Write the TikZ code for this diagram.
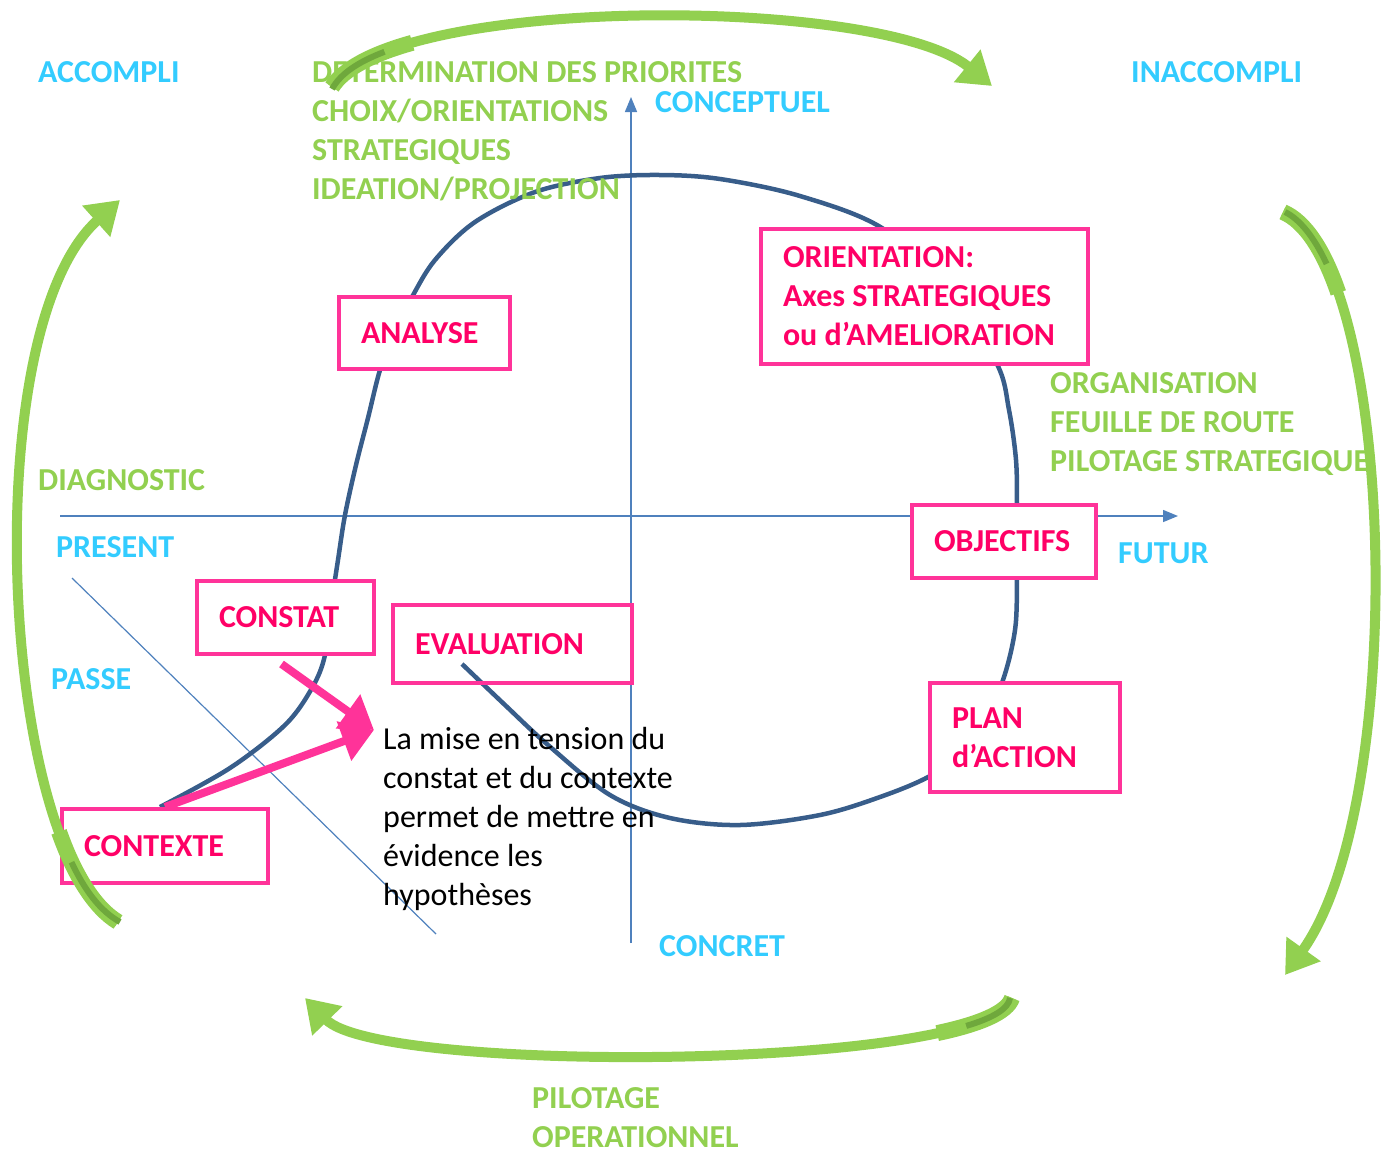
\documentclass[tikz,border=0pt]{standalone}
\usepackage{fontspec}
\setmainfont{Carlito}
\usetikzlibrary{arrows.meta,backgrounds}
\definecolor{boxpink}{HTML}{FF3399}
\definecolor{textpink}{HTML}{FF0066}
\definecolor{loopblue}{HTML}{385D8A}
\definecolor{axisblue}{HTML}{4F81BD}
\definecolor{lblcyan}{HTML}{33CCFF}
\definecolor{lblgreen}{HTML}{92D050}
\definecolor{tailgreen}{HTML}{6FA83C}
\newcommand{\lblsize}{\fontsize{32}{39}\selectfont}
\tikzset{%
  pinkbox/.style={draw=boxpink,line width=4pt,fill=white,text=textpink,font=\bfseries\lblsize,align=flush left,inner xsep=22pt,inner ysep=0pt},
  bluelbl/.style={text=lblcyan,font=\bfseries\lblsize,anchor=base west,inner sep=0pt},
  greenlbl/.style={text=lblgreen,font=\bfseries\lblsize,anchor=north west,align=left,inner sep=0pt},
  bodytext/.style={text=black,font=\lblsize,anchor=north west,align=left,inner sep=0pt},
  axis/.style={draw=axisblue,line width=1.5pt,-{Triangle[length=15pt,width=12pt]}},
  thinline/.style={draw=axisblue,line width=1.2pt},
  loopline/.style={draw=loopblue,line width=4.5pt},
  pinkarrow/.style={draw=boxpink,line width=8pt,-{Triangle[length=32pt,width=40pt]}},
  greenarrow/.style={draw=lblgreen,line width=10pt,-{Triangle[length=32pt,width=40pt]}},
  greenbase/.style={draw=lblgreen,line width=16pt},
  greentail/.style={draw=tailgreen,line width=6pt}
}

\begin{document}
\begin{tikzpicture}[x=1pt,y=-1pt]
  \useasboundingbox (0,0) rectangle (1383,1157);

  % boxes
  \node[pinkbox,text width=127pt,minimum height=72pt] (analyse) at (424.5,333) {ANALYSE};
  \node[pinkbox,text width=283pt,minimum height=135pt] (orientation) at (924.5,296.5) {ORIENTATION:\\Axes STRATEGIQUES\\ou d’AMELIORATION};
  \node[pinkbox,text width=140pt,minimum height=73pt] (objectifs) at (1004,541.5) {OBJECTIFS};
  \node[pinkbox,text width=146pt,minimum height=109pt] (plan) at (1025,737.5) {PLAN\\d’ACTION};
  \node[pinkbox,text width=133pt,minimum height=73pt] (constat) at (285.5,617.5) {CONSTAT};
  \node[pinkbox,fill=none,text width=195pt,minimum height=78pt] (evaluation) at (512.5,644) {EVALUATION};
  \node[pinkbox,text width=162pt,minimum height=74pt] (contexte) at (165,846) {CONTEXTE};

  % axes and loop behind the boxes
  \coordinate (west) at (60,516);
  \coordinate (east) at (1178,516);
  \coordinate (south) at (631,943);
  \coordinate (north) at (631,97);
  \coordinate (diagtop) at (72,578);
  \coordinate (diagbot) at (436,934);
  \begin{scope}[on background layer]
    \draw[axis] (west) -- (east);
    \draw[axis] (south) -- (north);
    \draw[thinline] (diagtop) -- (diagbot);
    \draw[loopline] plot[smooth,tension=0.55] coordinates {([xshift=-5pt]contexte.north) (230,768) (285,725) (312,688) (325,655) (332,600)
      (338,560) (345,515) (356,465) (368,418) (380,370) (395,330) (412,297) (435,260) (475,222) (535,192)
      (600,178) (660,175) (720,179) (800,196) (882,228) (950,290) (997,364) (1009,410) (1016,460) (1017,505)
      (1017,545) (1017,578) (1015,630) (1002,683) (975,745) (930,776) (880,797) (820,815) (740,825)
      (670,818) (610,795) (548,745) (505,705) (462,664)};
  \end{scope}

  % tension arrows
  \coordinate (tip) at (374,730);
  \draw[pinkarrow] ([xshift=-4pt,yshift=-8pt]constat.south) -- (tip);
  \draw[pinkarrow] (contexte.north) -- (tip);

  % labels
  \node[bluelbl] (accompli) at (38,82) {ACCOMPLI};
  \node[bluelbl] (inaccompli) at (1131,82) {INACCOMPLI};
  \node[bluelbl] (conceptuel) at (655,112) {CONCEPTUEL};
  \node[bluelbl] (present) at (56,557) {PRESENT};
  \node[bluelbl] (passe) at (51,689) {PASSE};
  \node[bluelbl] (futur) at (1118,563) {FUTUR};
  \node[bluelbl] (concret) at (659,956) {CONCRET};
  \node[greenlbl,anchor=base west] (diagnostic) at (38,490) {DIAGNOSTIC};
  \node[greenlbl] (priorites) at (312,61.5) {DETERMINATION DES PRIORITES\\CHOIX/ORIENTATIONS\\STRATEGIQUES\\IDEATION/PROJECTION};
  \node[greenlbl] (organisation) at (1050,372.5) {ORGANISATION\\FEUILLE DE ROUTE\\PILOTAGE STRATEGIQUE};
  \node[greenlbl] (pilotage) at (532,1087.5) {PILOTAGE\\OPERATIONNEL};
  \node[bodytext] (tension) at (383,727) {La mise en tension du\\constat et du contexte\\permet de mettre en\\évidence les\\hypothèses};

  % big cycle arrows
  \coordinate (toptail) at (332,87);
  \coordinate (tophead) at (992,86);
  \coordinate (righttail) at (1283,212);
  \coordinate (righthead) at (1285,975);
  \coordinate (bottail) at (1012,998);
  \coordinate (bothead) at (305,998);
  \coordinate (lefttail) at (118,922);
  \coordinate (lefthead) at (120,200);
  \draw[greenarrow] (toptail) .. controls (390,-5) and (880,-5) .. (tophead);
  \draw[greenarrow] (righttail) .. controls (1395,260) and (1410,800) .. (righthead);
  \draw[greenarrow] (bottail) .. controls (990,1070) and (380,1075) .. (bothead);
  \draw[greenarrow] (lefttail) .. controls (0,850) and (-25,330) .. (lefthead);
  % wide tails
  \draw[greenbase] (toptail) .. controls (343.6,68.6) and (372.5,53.9) .. (412.2,42.8);
  \draw[greenbase] (righttail) .. controls (1305.4,221.6) and (1323.9,250.9) .. (1338.3,292.9);
  \draw[greenbase] (bottail) .. controls (1007.6,1012.4) and (979.7,1024.1) .. (937.2,1033.1);
  \draw[greenbase] (lefttail) .. controls (94.4,907.6) and (74.5,875.3) .. (59,831.8);
  \draw[greentail] ([yshift=-2pt]toptail) .. controls (340.7,73.2) and (359.1,61.5) .. (384.5,51.8);
  \draw[greentail] ([xshift=2pt]righttail) .. controls (1299.8,219.2) and (1314.4,237.5) .. (1326.6,263.9);
  \draw[greentail] ([xshift=-2pt]bottail) .. controls (1008.7,1008.8) and (992.2,1018.2) .. (966.2,1025.9);
  \draw[greentail] ([xshift=2pt]lefttail) .. controls (100.3,911.2) and (84.7,890.3) .. (71.5,862.2);
\end{tikzpicture}
\end{document}
